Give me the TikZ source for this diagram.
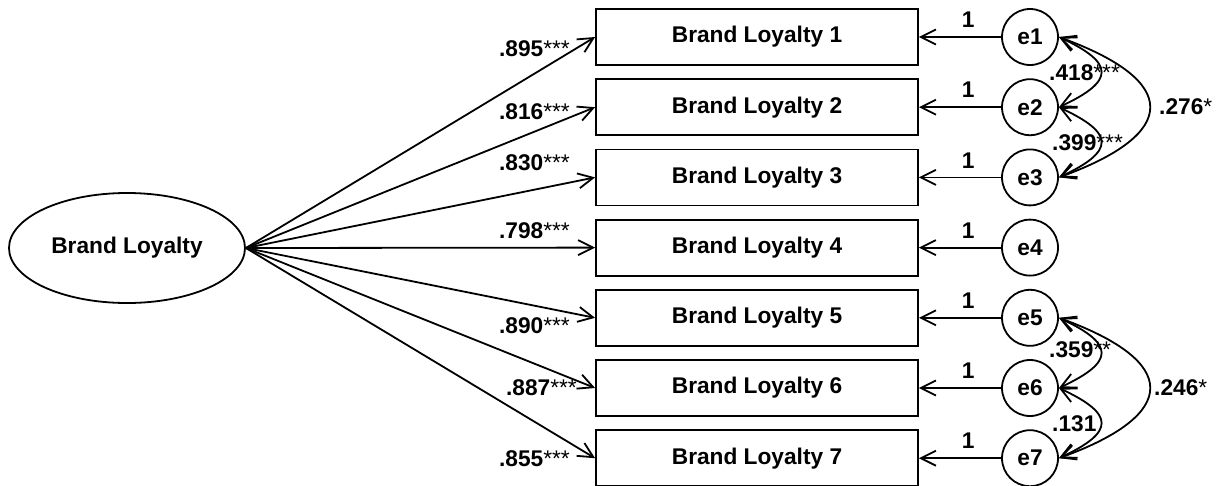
\documentclass[tikz,border=0pt]{standalone}
\usepackage{fontspec}
\setmainfont{Liberation Sans}
\usetikzlibrary{shapes.geometric,arrows.meta}
\newcommand{\signif}[1]{{\mdseries #1}}
\begin{document}
\begin{tikzpicture}[
    x=1pt, y=1pt,
    font=\fontsize{22.7}{26}\selectfont\bfseries,
    latent/.style={ellipse, draw, line width=1.8pt, minimum width=236pt, minimum height=110pt, inner sep=0pt},
    item/.style={rectangle, draw, line width=1.8pt, minimum width=322pt, minimum height=56pt},
    err/.style={circle, draw, line width=1.8pt, minimum size=56pt, inner sep=0pt},
    coef/.style={anchor=east, inner sep=0pt},
    cvlab/.style={anchor=west, inner sep=0pt},
    line/.style={draw, -{Straight Barb[length=15pt,width=15pt]}, line width=1.8pt},
    cov/.style={draw, {Straight Barb[length=15pt,width=15pt]}-{Straight Barb[length=15pt,width=15pt]}, line width=1.8pt}
]
    \useasboundingbox (0,0) rectangle (1217,-485);

    \node [latent] (bl) at (127,-248) {Brand Loyalty};

    \node [item] (bl1) at (757,-37) {Brand Loyalty 1};
    \node [item] (bl2) at (757,-107.2) {Brand Loyalty 2};
    \node [item] (bl3) at (757,-177.4) {Brand Loyalty 3};
    \node [item] (bl4) at (757,-247.6) {Brand Loyalty 4};
    \node [item] (bl5) at (757,-317.8) {Brand Loyalty 5};
    \node [item] (bl6) at (757,-388) {Brand Loyalty 6};
    \node [item] (bl7) at (757,-458.2) {Brand Loyalty 7};

    \node [err] (e1) at (1030,-37) {e1};
    \node [err] (e2) at (1030,-107.2) {e2};
    \node [err] (e3) at (1030,-177.4) {e3};
    \node [err] (e4) at (1030,-247.6) {e4};
    \node [err] (e5) at (1030,-317.8) {e5};
    \node [err] (e6) at (1030,-388) {e6};
    \node [err] (e7) at (1030,-458.2) {e7};

    % factor loadings
    \draw [line] (bl.east) -- (bl1.west);
    \draw [line] (bl.east) -- (bl2.west);
    \draw [line] (bl.east) -- (bl3.west);
    \draw [line] (bl.east) -- (bl4.west);
    \draw [line] (bl.east) -- (bl5.west);
    \draw [line] (bl.east) -- (bl6.west);
    \draw [line] (bl.east) -- (bl7.west);

    \node [coef] (l1) at (570,-49) {.895\signif{***}};
    \node [coef] (l2) at (570,-112) {.816\signif{***}};
    \node [coef] (l3) at (570,-163) {.830\signif{***}};
    \node [coef] (l4) at (570,-231) {.798\signif{***}};
    \node [coef] (l5) at (570,-326) {.890\signif{***}};
    \node [coef] (l6) at (577,-388) {.887\signif{***}};
    \node [coef] (l7) at (570,-459) {.855\signif{***}};

    % error terms
    \draw [line] (e1) -- (bl1) node [pos=0.4, above=5pt] (w1) {1};
    \draw [line] (e2) -- (bl2) node [pos=0.4, above=5pt] (w2) {1};
    \draw [line] (e3) -- (bl3) node [pos=0.4, above=5pt] (w3) {1};
    \draw [line] (e4) -- (bl4) node [pos=0.4, above=5pt] (w4) {1};
    \draw [line] (e5) -- (bl5) node [pos=0.4, above=5pt] (w5) {1};
    \draw [line] (e6) -- (bl6) node [pos=0.4, above=5pt] (w6) {1};
    \draw [line] (e7) -- (bl7) node [pos=0.4, above=5pt] (w7) {1};

    % covariances
    \draw [cov] (e1.east) to [out=-25, in=25, looseness=2.26] (e2.east);
    \draw [cov] (e2.east) to [out=-25, in=25, looseness=2.26] (e3.east);
    \draw [cov] (e1.east) to [out=-20, in=20, looseness=2.35] (e3.east);
    \draw [cov] (e5.east) to [out=-25, in=25, looseness=2.26] (e6.east);
    \draw [cov] (e6.east) to [out=-25, in=25, looseness=2.26] (e7.east);
    \draw [cov] (e5.east) to [out=-20, in=20, looseness=2.35] (e7.east);

    \node [cvlab] (c12) at (1049,-73) {.418\signif{***}};
    \node [cvlab] (c23) at (1052,-143) {.399\signif{***}};
    \node [cvlab] (c13) at (1159,-107) {.276\signif{*}};
    \node [cvlab] (c56) at (1049,-350) {.359\signif{**}};
    \node [cvlab] (c67) at (1052,-424) {.131};
    \node [cvlab] (c57) at (1154,-388) {.246\signif{*}};
\end{tikzpicture}
\end{document}
